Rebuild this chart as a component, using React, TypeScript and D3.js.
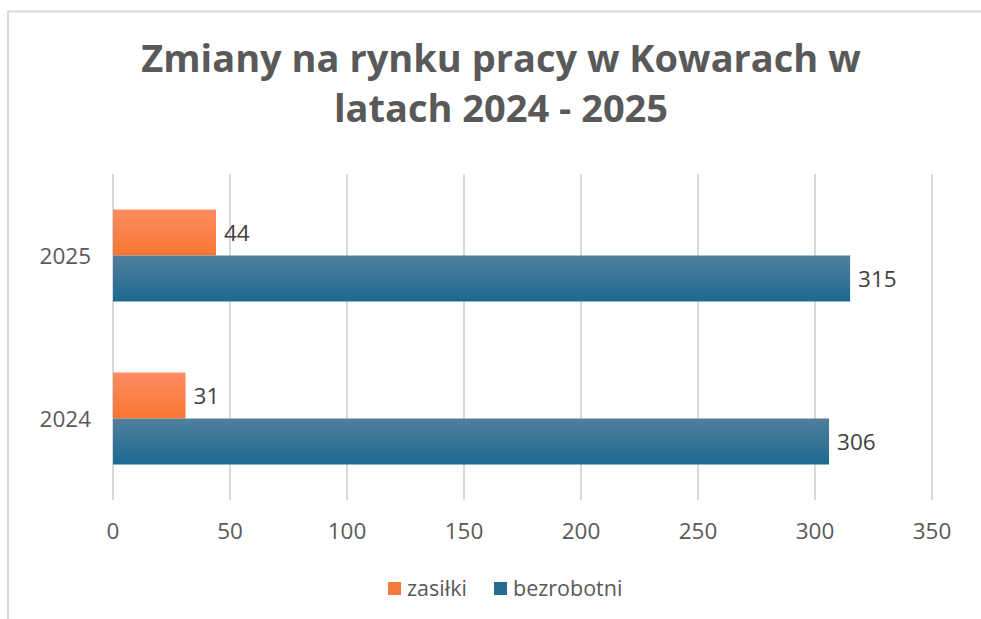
import React from "react";
import * as d3 from "d3";

const categories = ["2025", "2024"];
const seriesNames = ["zasiłki", "bezrobotni"];
const zasilki = [44, 31];
const bezrobotni = [315, 306];
const xTicks = [0, 50, 100, 150, 200, 250, 300, 350];
const titleLines = ["Zmiany na rynku pracy w Kowarach w", "latach 2024 - 2025"];

const W = 981;
const H = 619;
const FONT = "'Open Sans', 'Liberation Sans', sans-serif";

export default function App() {
  const x = d3.scaleLinear().domain([0, 350]).range([113, 932]);
  const y = d3.scaleBand<string>().domain(categories).range([174, 500]).paddingInner(0).paddingOuter(0);
  const inner = d3.scaleBand<string>().domain(seriesNames).range([0, 92]);
  const groupOffset = (y.bandwidth() - 92) / 2;
  const values = [zasilki, bezrobotni];
  const fills = ["url(#gOrange)", "url(#gBlue)"];
  const legendColors = ["#F47B40", "#266A90"];

  return (
    <div style={{ position: "absolute", left: 0, top: 0 }}>
      <svg width={W} height={H} style={{ display: "block" }}>
        <defs>
          <linearGradient id="gOrange" x1="0" y1="0" x2="0" y2="1">
            <stop offset="0%" stopColor="#FC8D62" />
            <stop offset="100%" stopColor="#FB7632" />
          </linearGradient>
          <linearGradient id="gBlue" x1="0" y1="0" x2="0" y2="1">
            <stop offset="0%" stopColor="#527F9D" />
            <stop offset="100%" stopColor="#1B6990" />
          </linearGradient>
        </defs>
        <rect x={0} y={0} width={W} height={H} fill="#fff" />
        <line x1={8} y1={11.5} x2={W} y2={11.5} stroke="#D9D9D9" strokeWidth={2} />
        <line x1={8} y1={11} x2={8} y2={H} stroke="#D9D9D9" strokeWidth={2} />

        {titleLines.map((t, i) => (
          <text
            key={i}
            x={501}
            y={72 + i * 50}
            textAnchor="middle"
            fontFamily={FONT}
            fontWeight={700}
            fontSize={38}
            fill="#595959"
          >
            {t}
          </text>
        ))}

        {xTicks.map((t) => (
          <g key={t}>
            <line x1={x(t)} x2={x(t)} y1={174} y2={500} stroke="#D9D9D9" strokeWidth={2} />
            <text
              x={x(t)}
              y={539}
              textAnchor="middle"
              fontFamily={FONT}
              fontSize={22.5}
              fill="#595959"
            >
              {t}
            </text>
          </g>
        ))}

        {categories.map((c) => (
          <text
            key={c}
            x={91}
            y={(y(c) as number) + y.bandwidth() / 2 + 8.5}
            textAnchor="end"
            fontFamily={FONT}
            fontSize={22.5}
            fill="#595959"
          >
            {c}
          </text>
        ))}

        {seriesNames.map((s, si) =>
          categories.map((c, ci) => {
            const v = values[si][ci];
            const by = (y(c) as number) + groupOffset + (inner(s) as number);
            const bh = inner.bandwidth();
            return (
              <g key={s + c}>
                <rect x={x(0)} y={by} width={x(v) - x(0)} height={bh} fill={fills[si]} />
                <text
                  x={x(v) + 8}
                  y={by + bh / 2 + 8.5}
                  fontFamily={FONT}
                  fontSize={22.5}
                  fill="#404040"
                >
                  {v}
                </text>
              </g>
            );
          })
        )}

        {seriesNames.map((s, i) => {
          const lx = [388, 494][i];
          return (
            <g key={s}>
              <rect x={lx} y={582} width={13} height={13} fill={legendColors[i]} />
              <text x={lx + 19} y={596} fontFamily={FONT} fontSize={21.5} fill="#595959">
                {s}
              </text>
            </g>
          );
        })}
      </svg>
    </div>
  );
}
